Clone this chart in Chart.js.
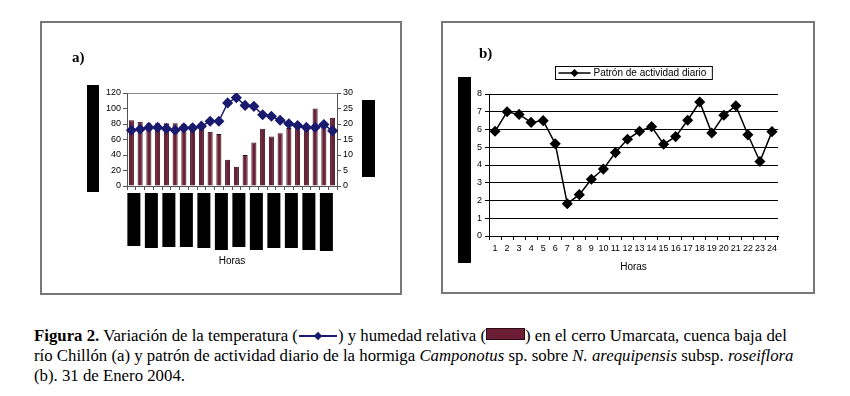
<!DOCTYPE html>
<html>
<head>
<meta charset="utf-8">
<script src="https://cdn.jsdelivr.net/npm/chart.js@4.4.0/dist/chart.umd.min.js"></script>
<style>
body { margin: 0; background: #fff; width: 850px; height: 396px; position: relative; overflow: hidden; }
.panel { position: absolute; box-sizing: border-box; border: 2px solid #777; background: #fff; }
.panel canvas { position: absolute; left: 0; top: 0; }
.tag { position: absolute; font-family: 'Liberation Serif', 'Times New Roman', serif; font-weight: bold; font-size: 15px; line-height: 1; }
#caption { position: absolute; left: 34px; top: 326px; font-family: 'Liberation Serif', 'Times New Roman', serif; font-size: 16.8px; line-height: 20px; white-space: nowrap; color: #000; }
.symTemp { display: inline-block; position: relative; width: 40px; height: 12px; vertical-align: -1px; }
.symTemp::before { content: ''; position: absolute; left: 1px; right: 1px; top: 5px; border-top: 2px solid #1a1a6e; }
.symTemp::after { content: ''; position: absolute; left: 17px; top: 3px; width: 6px; height: 6px; background: #1a1a6e; transform: rotate(45deg); }
.symHum { display: inline-block; width: 37px; height: 10px; background: #6e1f38; border: 1px solid #2a0a14; vertical-align: 1px; }
</style>
</head>
<body>

<div class="panel" style="left:40px; top:21px; width:362px; height:274px;">
  <canvas id="chartA" width="358" height="270"></canvas>
</div>
<div class="tag" style="left:72px; top:50px;">a)</div>

<div class="panel" style="left:441px; top:21px; width:374px; height:273px;">
  <canvas id="chartB" width="370" height="269"></canvas>
</div>
<div class="tag" style="left:479px; top:46px;">b)</div>

<div id="caption">
<b>Figura 2.</b> Variación de la temperatura (<span class="symTemp"></span>) y humedad relativa (<span class="symHum"></span>) en el cerro Umarcata, cuenca baja del<br>
río Chillón (a) y patrón de actividad diario de la hormiga <i>Camponotus</i> sp. sobre <i>N. arequipensis</i> subsp. <i>roseiflora</i><br>
(b). 31 de Enero 2004.
</div>

<script>
// Hours of the day (both panels)
const hours = ['1', '2', '3', '4', '5', '6', '7', '8', '9', '10', '11', '12',
               '13', '14', '15', '16', '17', '18', '19', '20', '21', '22', '23', '24'];

// Panel a: relative humidity (%) bars, left axis
const humidity = [85, 83, 81, 81, 81, 81, 80, 80, 80, 70, 67, 34,
                  25, 40, 56, 74, 64, 68, 75, 76, 76, 100, 77, 88];

// Panel a: temperature (°C) line, right axis
const temperature = [18.0, 18.3, 18.9, 18.9, 18.5, 18.0, 18.75, 18.75, 19.3, 20.9, 20.9, 26.8,
                     28.5, 26.0, 25.7, 23.0, 22.5, 21.2, 20.1, 19.5, 18.9, 18.9, 19.8, 17.8];

// Panel b: daily activity pattern
const activity = [5.9, 7.0, 6.85, 6.4, 6.5, 5.2, 1.82, 2.33, 3.2, 3.77, 4.7, 5.45,
                  5.9, 6.16, 5.17, 5.6, 6.52, 7.55, 5.8, 6.8, 7.34, 5.7, 4.2, 5.88];

// Heights of the blacked-out x labels under panel a (one per two hours)
const hiddenLabelHeights = [53, 55, 54, 54, 55, 57, 54, 57, 55, 55, 57, 58];

const tickFont = { family: 'Arial, "Liberation Sans", sans-serif', size: 9 };
const titleFont = { family: 'Arial, "Liberation Sans", sans-serif', size: 10 };

// Black boxes that cover the axis titles / labels in the original figure
const redactA = {
    id: 'redactA',
    afterDraw(chart) {
        const { ctx, chartArea, scales } = chart;
        ctx.save();
        ctx.fillStyle = '#000';
        ctx.fillRect(chartArea.left - 40, chartArea.top - 8, 12, chartArea.bottom - chartArea.top + 14);
        ctx.fillRect(chartArea.right + 25, chartArea.top + 7, 13, 77);
        hiddenLabelHeights.forEach((h, i) => {
            const cx = scales.x.getPixelForValue(i * 2) + 2.5;
            ctx.fillRect(cx - 6.5, chartArea.bottom + 7, 13, h);
        });
        ctx.restore();
    }
};

const redactB = {
    id: 'redactB',
    afterDraw(chart) {
        const { ctx, chartArea } = chart;
        ctx.save();
        ctx.fillStyle = '#000';
        ctx.fillRect(chartArea.left - 31, chartArea.top - 17, 13, 186);

        // boxed legend with a line + diamond sample
        const label = chart.data.datasets[0].label;
        ctx.font = '10px Arial, "Liberation Sans", sans-serif';
        const tw = ctx.measureText(label).width;
        const bw = 3 + 32 + 3 + tw + 6;
        const bx = Math.round((chartArea.left + chartArea.right) / 2 - bw / 2) + 0.5;
        const by = chartArea.top - 28 + 0.5;
        ctx.strokeStyle = '#000';
        ctx.lineWidth = 1;
        ctx.strokeRect(bx, by, bw, 13);
        const cy = by + 6.5;
        ctx.beginPath();
        ctx.moveTo(bx + 3, cy);
        ctx.lineTo(bx + 35, cy);
        ctx.lineWidth = 1.5;
        ctx.stroke();
        ctx.beginPath();
        ctx.moveTo(bx + 19, cy - 4);
        ctx.lineTo(bx + 23, cy);
        ctx.lineTo(bx + 19, cy + 4);
        ctx.lineTo(bx + 15, cy);
        ctx.closePath();
        ctx.fill();
        ctx.textBaseline = 'middle';
        ctx.fillText(label, bx + 38, cy + 0.5);
        ctx.restore();
    }
};

new Chart(document.getElementById('chartA'), {
    type: 'bar',
    data: {
        labels: hours,
        datasets: [{
            type: 'line',
            label: 'Temperatura',
            data: temperature,
            yAxisID: 'y1',
            borderColor: '#1a1a6e',
            backgroundColor: '#1a1a6e',
            borderWidth: 1.5,
            pointStyle: 'rectRot',
            pointRadius: 4.5,
            tension: 0,
            order: 0
        }, {
            label: 'Humedad relativa',
            data: humidity,
            yAxisID: 'y',
            backgroundColor: '#6e1f38',
            borderColor: '#2a0a14',
            borderWidth: 1,
            categoryPercentage: 1,
            barPercentage: 0.58,
            order: 1
        }]
    },
    options: {
        responsive: false,
        animation: false,
        layout: { padding: { left: 0, right: 0, top: 70, bottom: 26 } },
        plugins: { legend: { display: false }, tooltip: { enabled: false } },
        scales: {
            x: {
                offset: true,
                afterFit: s => { s.height = 81; },
                grid: { offset: true, drawOnChartArea: false, tickLength: 4, color: '#555' },
                border: { color: '#555' },
                ticks: { display: false },
                title: { display: true, text: 'Horas', font: titleFont, color: '#000', padding: 0 }
            },
            y: {
                position: 'left',
                min: 0, max: 120,
                afterFit: s => { s.width = 85; },
                ticks: { stepSize: 20, font: tickFont, color: '#000', padding: 2 },
                grid: {
                    tickLength: 4,
                    color: ctx => ctx.tick && ctx.tick.value === 120 ? '#888' : 'rgba(0,0,0,0)',
                    tickColor: '#555'
                },
                border: { color: '#555' }
            },
            y1: {
                position: 'right',
                min: 0, max: 30,
                afterFit: s => { s.width = 63; },
                ticks: { stepSize: 5, font: tickFont, color: '#000', padding: 2 },
                grid: { drawOnChartArea: false, tickLength: 4, tickColor: '#555' },
                border: { color: '#555' }
            }
        }
    },
    plugins: [redactA]
});

new Chart(document.getElementById('chartB'), {
    type: 'line',
    data: {
        labels: hours,
        datasets: [{
            label: 'Patrón de actividad diario',
            data: activity,
            borderColor: '#000',
            backgroundColor: '#000',
            borderWidth: 1.5,
            pointStyle: 'rectRot',
            pointRadius: 4.5,
            tension: 0
        }]
    },
    options: {
        responsive: false,
        animation: false,
        layout: { padding: { left: 0, right: 35, top: 71, bottom: 19 } },
        plugins: { legend: { display: false }, tooltip: { enabled: false } },
        scales: {
            x: {
                offset: true,
                afterFit: s => { s.height = 37; },
                grid: { offset: true, drawOnChartArea: false, tickLength: 4, color: '#000' },
                border: { color: '#000' },
                ticks: { font: tickFont, color: '#000', autoSkip: false, maxRotation: 0, minRotation: 0, padding: 3 },
                title: { display: true, text: 'Horas', font: titleFont, color: '#000', padding: 0 }
            },
            y: {
                min: 0, max: 8,
                afterFit: s => { s.width = 46; },
                ticks: { stepSize: 1, font: tickFont, color: '#000', padding: 3 },
                grid: { color: '#000', tickLength: 4 },
                border: { color: '#000' }
            }
        }
    },
    plugins: [redactB]
});
</script>
</body>
</html>
